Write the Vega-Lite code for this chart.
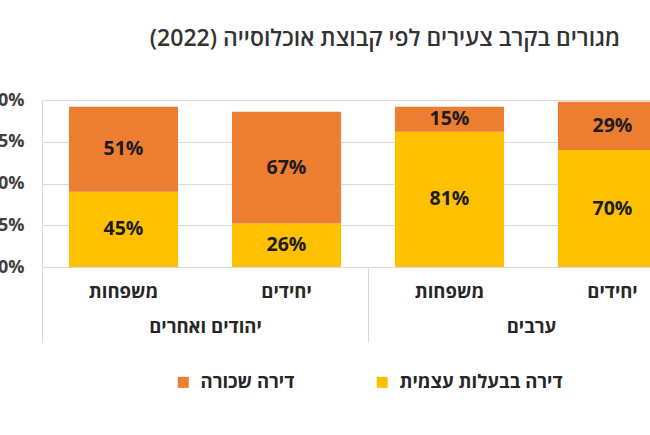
{
  "$schema": "https://vega.github.io/schema/vega-lite/v6.json",
  "width": 608,
  "height": 167,
  "autosize": {"type": "none"},
  "padding": {"left": 42, "top": 100, "right": 0, "bottom": 168},
  "background": "white",
  "config": {"font": "Open Sans", "view": {"stroke": null}},
  "title": {
    "text": "מגורים בקרב צעירים לפי קבוצת אוכלוסייה (2022)",
    "fontSize": 23,
    "fontWeight": 600,
    "color": "#333333",
    "anchor": "middle",
    "dx": 39,
    "offset": 40
  },
  "data": {
    "values": [
      {"group": "יהודים ואחרים", "cat": "יהודים ואחרים|משפחות", "type": "דירה בבעלות עצמית", "value": 0.45},
      {"group": "יהודים ואחרים", "cat": "יהודים ואחרים|משפחות", "type": "דירה שכורה", "value": 0.51},
      {"group": "יהודים ואחרים", "cat": "יהודים ואחרים|יחידים", "type": "דירה בבעלות עצמית", "value": 0.26},
      {"group": "יהודים ואחרים", "cat": "יהודים ואחרים|יחידים", "type": "דירה שכורה", "value": 0.67},
      {"group": "ערבים", "cat": "ערבים|משפחות", "type": "דירה בבעלות עצמית", "value": 0.81},
      {"group": "ערבים", "cat": "ערבים|משפחות", "type": "דירה שכורה", "value": 0.15},
      {"group": "ערבים", "cat": "ערבים|יחידים", "type": "דירה בבעלות עצמית", "value": 0.70},
      {"group": "ערבים", "cat": "ערבים|יחידים", "type": "דירה שכורה", "value": 0.29}
    ]
  },
  "layer": [
    {
      "encoding": {
        "x": {
          "field": "cat",
          "type": "nominal",
          "scale": {
            "domain": ["יהודים ואחרים|משפחות", "יהודים ואחרים|יחידים", "ערבים|משפחות", "ערבים|יחידים"],
            "range": [0, 652],
            "paddingInner": 0.331,
            "paddingOuter": 0.1656
          },
          "axis": {
            "title": null,
            "orient": "bottom",
            "labelExpr": "split(datum.label, '|')[1]",
            "labelAngle": 0,
            "ticks": false,
            "domain": false,
            "labelPadding": 15,
            "labelFontSize": 18.5,
            "labelFontWeight": "bold",
            "labelColor": "#262626"
          }
        }
      },
      "layer": [
        {
          "mark": {"type": "bar"},
          "encoding": {
            "y": {
              "field": "value",
              "type": "quantitative",
              "stack": "zero",
              "scale": {"domain": [0, 1]},
              "axis": {
                "title": null,
                "values": [0, 0.25, 0.5, 0.75, 1],
                "format": ".0%",
                "labelFontSize": 18,
                "labelFontWeight": "bold",
                "labelColor": "#404040",
                "labelPadding": 18,
                "ticks": false,
                "domainColor": "#d9d9d9",
                "gridColor": "#d9d9d9"
              }
            },
            "color": {
              "field": "type",
              "type": "nominal",
              "scale": {"domain": ["דירה שכורה", "דירה בבעלות עצמית"], "range": ["#ED7D31", "#FFC000"]},
              "legend": {
                "orient": "none",
                "legendX": 132,
                "legendY": 273,
                "direction": "horizontal",
                "title": null,
                "symbolType": "square",
                "symbolSize": 121,
                "symbolStrokeWidth": 0,
                "labelFontSize": 18.5,
                "labelFontWeight": "bold",
                "labelColor": "#262626",
                "labelOffset": 8,
                "labelLimit": 400,
                "columnPadding": 78
              }
            },
            "order": {"field": "type", "sort": "ascending"}
          }
        },
        {
          "mark": {"type": "text", "fontSize": 19.5, "fontWeight": "bold", "color": "#1c1c1c"},
          "encoding": {
            "y": {"field": "value", "type": "quantitative", "stack": "zero", "bandPosition": 0.5},
            "detail": {"field": "type"},
            "order": {"field": "type", "sort": "ascending"},
            "text": {"field": "value", "type": "quantitative", "format": ".0%"}
          }
        }
      ]
    },
    {
      "mark": {"type": "point", "opacity": 0},
      "encoding": {
        "x": {
          "field": "group",
          "type": "nominal",
          "scale": {"type": "band", "domain": ["יהודים ואחרים", "ערבים"], "range": [0, 652], "paddingInner": 0, "paddingOuter": 0},
          "axis": {
            "title": null,
            "orient": "bottom",
            "labelAngle": 0,
            "domain": false,
            "ticks": true,
            "tickBand": "extent",
            "tickSize": 75,
            "tickColor": "#d9d9d9",
            "labelPadding": -25,
            "labelFontSize": 18.5,
            "labelFontWeight": "bold",
            "labelColor": "#262626"
          }
        }
      }
    }
  ],
  "resolve": {"scale": {"x": "independent"}, "axis": {"x": "independent"}}
}
